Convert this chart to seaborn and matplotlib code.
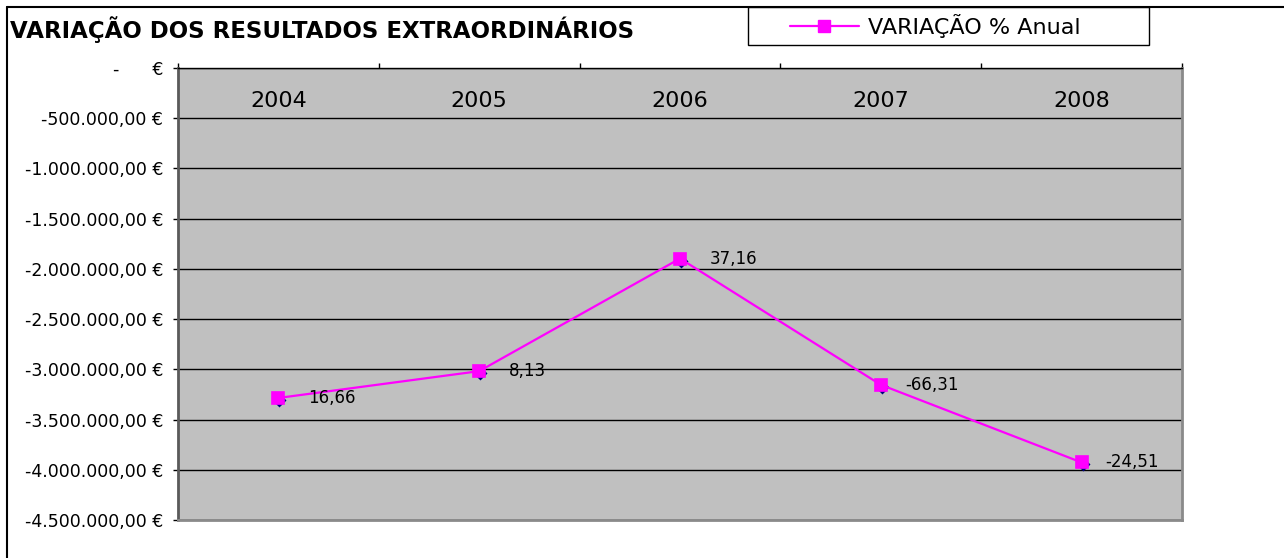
import numpy as np
import pandas as pd
import matplotlib
matplotlib.use('Agg')
import matplotlib.pyplot as plt
import seaborn as sns
from matplotlib import transforms
from matplotlib.lines import Line2D
from matplotlib.patches import Rectangle
from matplotlib.ticker import FuncFormatter, MultipleLocator

# dados
anos = ['2004', '2005', '2006', '2007', '2008']
valores = [-3285000, -3018000, -1897000, -3154000, -3927000]
variacao = ['16,66', '8,13', '37,16', '-66,31', '-24,51']

titulo = 'VARIAÇÃO DOS RESULTADOS EXTRAORDINÁRIOS'
legenda = 'VARIAÇÃO % Anual'

sns.set_style('white')
plt.rcParams['font.family'] = ['DejaVu Sans']
plt.rcParams['text.color'] = 'black'
plt.rcParams['xtick.color'] = 'black'
plt.rcParams['ytick.color'] = 'black'

W, H = 1284, 558
fig = plt.figure(figsize=(W / 100, H / 100), dpi=100)
ax = fig.add_axes([178 / W, 1 - 520 / H, (1182 - 178) / W, (520 - 68) / H])
ax.set_facecolor('#C0C0C0')

df = pd.DataFrame({'ano': anos, 'valor': valores})

# sombra azul escura dos marcadores (estilo Excel)
sns.pointplot(data=df, x='ano', y='valor', color='#000080', markers='D',
              linestyles='none', markersize=5, errorbar=None, ax=ax)
sombra = ax.lines[-1]
sombra.set_transform(ax.transData + transforms.ScaledTranslation(1 / 100, -2 / 100, fig.dpi_scale_trans))

sns.pointplot(data=df, x='ano', y='valor', color='#FF00FF', markers='s',
              markersize=9, linewidth=1.6, errorbar=None, ax=ax)

for i, (v, t) in enumerate(zip(valores, variacao)):
    dx = 24 if t.startswith('-') else 30
    ax.annotate(t, (i, v), xytext=(dx, 0), textcoords='offset pixels',
                va='center', ha='left', fontsize=12, color='black')

ax.set_ylim(-4500000, 0)
ax.set_xlim(-0.5, len(anos) - 0.5)
ax.yaxis.set_major_locator(MultipleLocator(500000))


def euro(v, pos):
    if v == 0:
        return '-      €'
    s = f'{abs(v):,.2f}'.replace(',', 'X').replace('.', ',').replace('X', '.')
    return f'-{s} €'


ax.yaxis.set_major_formatter(FuncFormatter(euro))
ax.grid(axis='y', color='black', lw=1)
ax.grid(axis='x', visible=False)
ax.set_axisbelow(True)
ax.tick_params(axis='y', left=True, direction='out', length=3.6, width=1,
               color='black', labelcolor='black', pad=7, labelsize=12.5)

# anos dentro da área do gráfico, no topo
ax.xaxis.tick_top()
ax.set_xticks(np.arange(-0.5, len(anos), 1), minor=True)
ax.tick_params(axis='x', which='major', top=False, bottom=False, labeltop=True,
               labelbottom=False, pad=-34.5, labelsize=16, labelcolor='black')
ax.tick_params(axis='x', which='minor', top=True, bottom=False, direction='out',
               length=3.6, width=1, color='black')
ax.set_xlabel('')
ax.set_ylabel('')

ax.spines['top'].set_color('black')
ax.spines['top'].set_linewidth(1)
ax.spines['left'].set_color('#5a5a5a')
ax.spines['left'].set_linewidth(2)
ax.spines['bottom'].set_color('#8a8a8a')
ax.spines['bottom'].set_linewidth(2)
ax.spines['right'].set_color('#8a8a8a')
ax.spines['right'].set_linewidth(2)

# título
fig.text(10 / W, 1 - 30 / H, titulo, fontsize=16.5, fontweight='bold',
         va='center', ha='left', color='black')

# legenda
fig.add_artist(Rectangle((748 / W, 1 - 45 / H), (1149 - 748) / W, 38 / H,
                         transform=fig.transFigure, facecolor='white',
                         edgecolor='black', lw=1))
h = Line2D([], [], color='#FF00FF', marker='s', markersize=9, lw=1.6)
fig.legend(handles=[h], labels=[legenda], loc='center left',
           bbox_to_anchor=(790 / W, 1 - 26 / H), frameon=False, fontsize=16,
           handlelength=3.1, handletextpad=0.4, borderpad=0, borderaxespad=0,
           labelcolor='black')

# moldura da figura
fig.add_artist(Line2D([7 / W, 1], [1 - 7 / H] * 2, transform=fig.transFigure, color='black', lw=1.5))
fig.add_artist(Line2D([7 / W] * 2, [0, 1 - 7 / H], transform=fig.transFigure, color='black', lw=1.5))

fig.savefig('out.png', dpi=100)
